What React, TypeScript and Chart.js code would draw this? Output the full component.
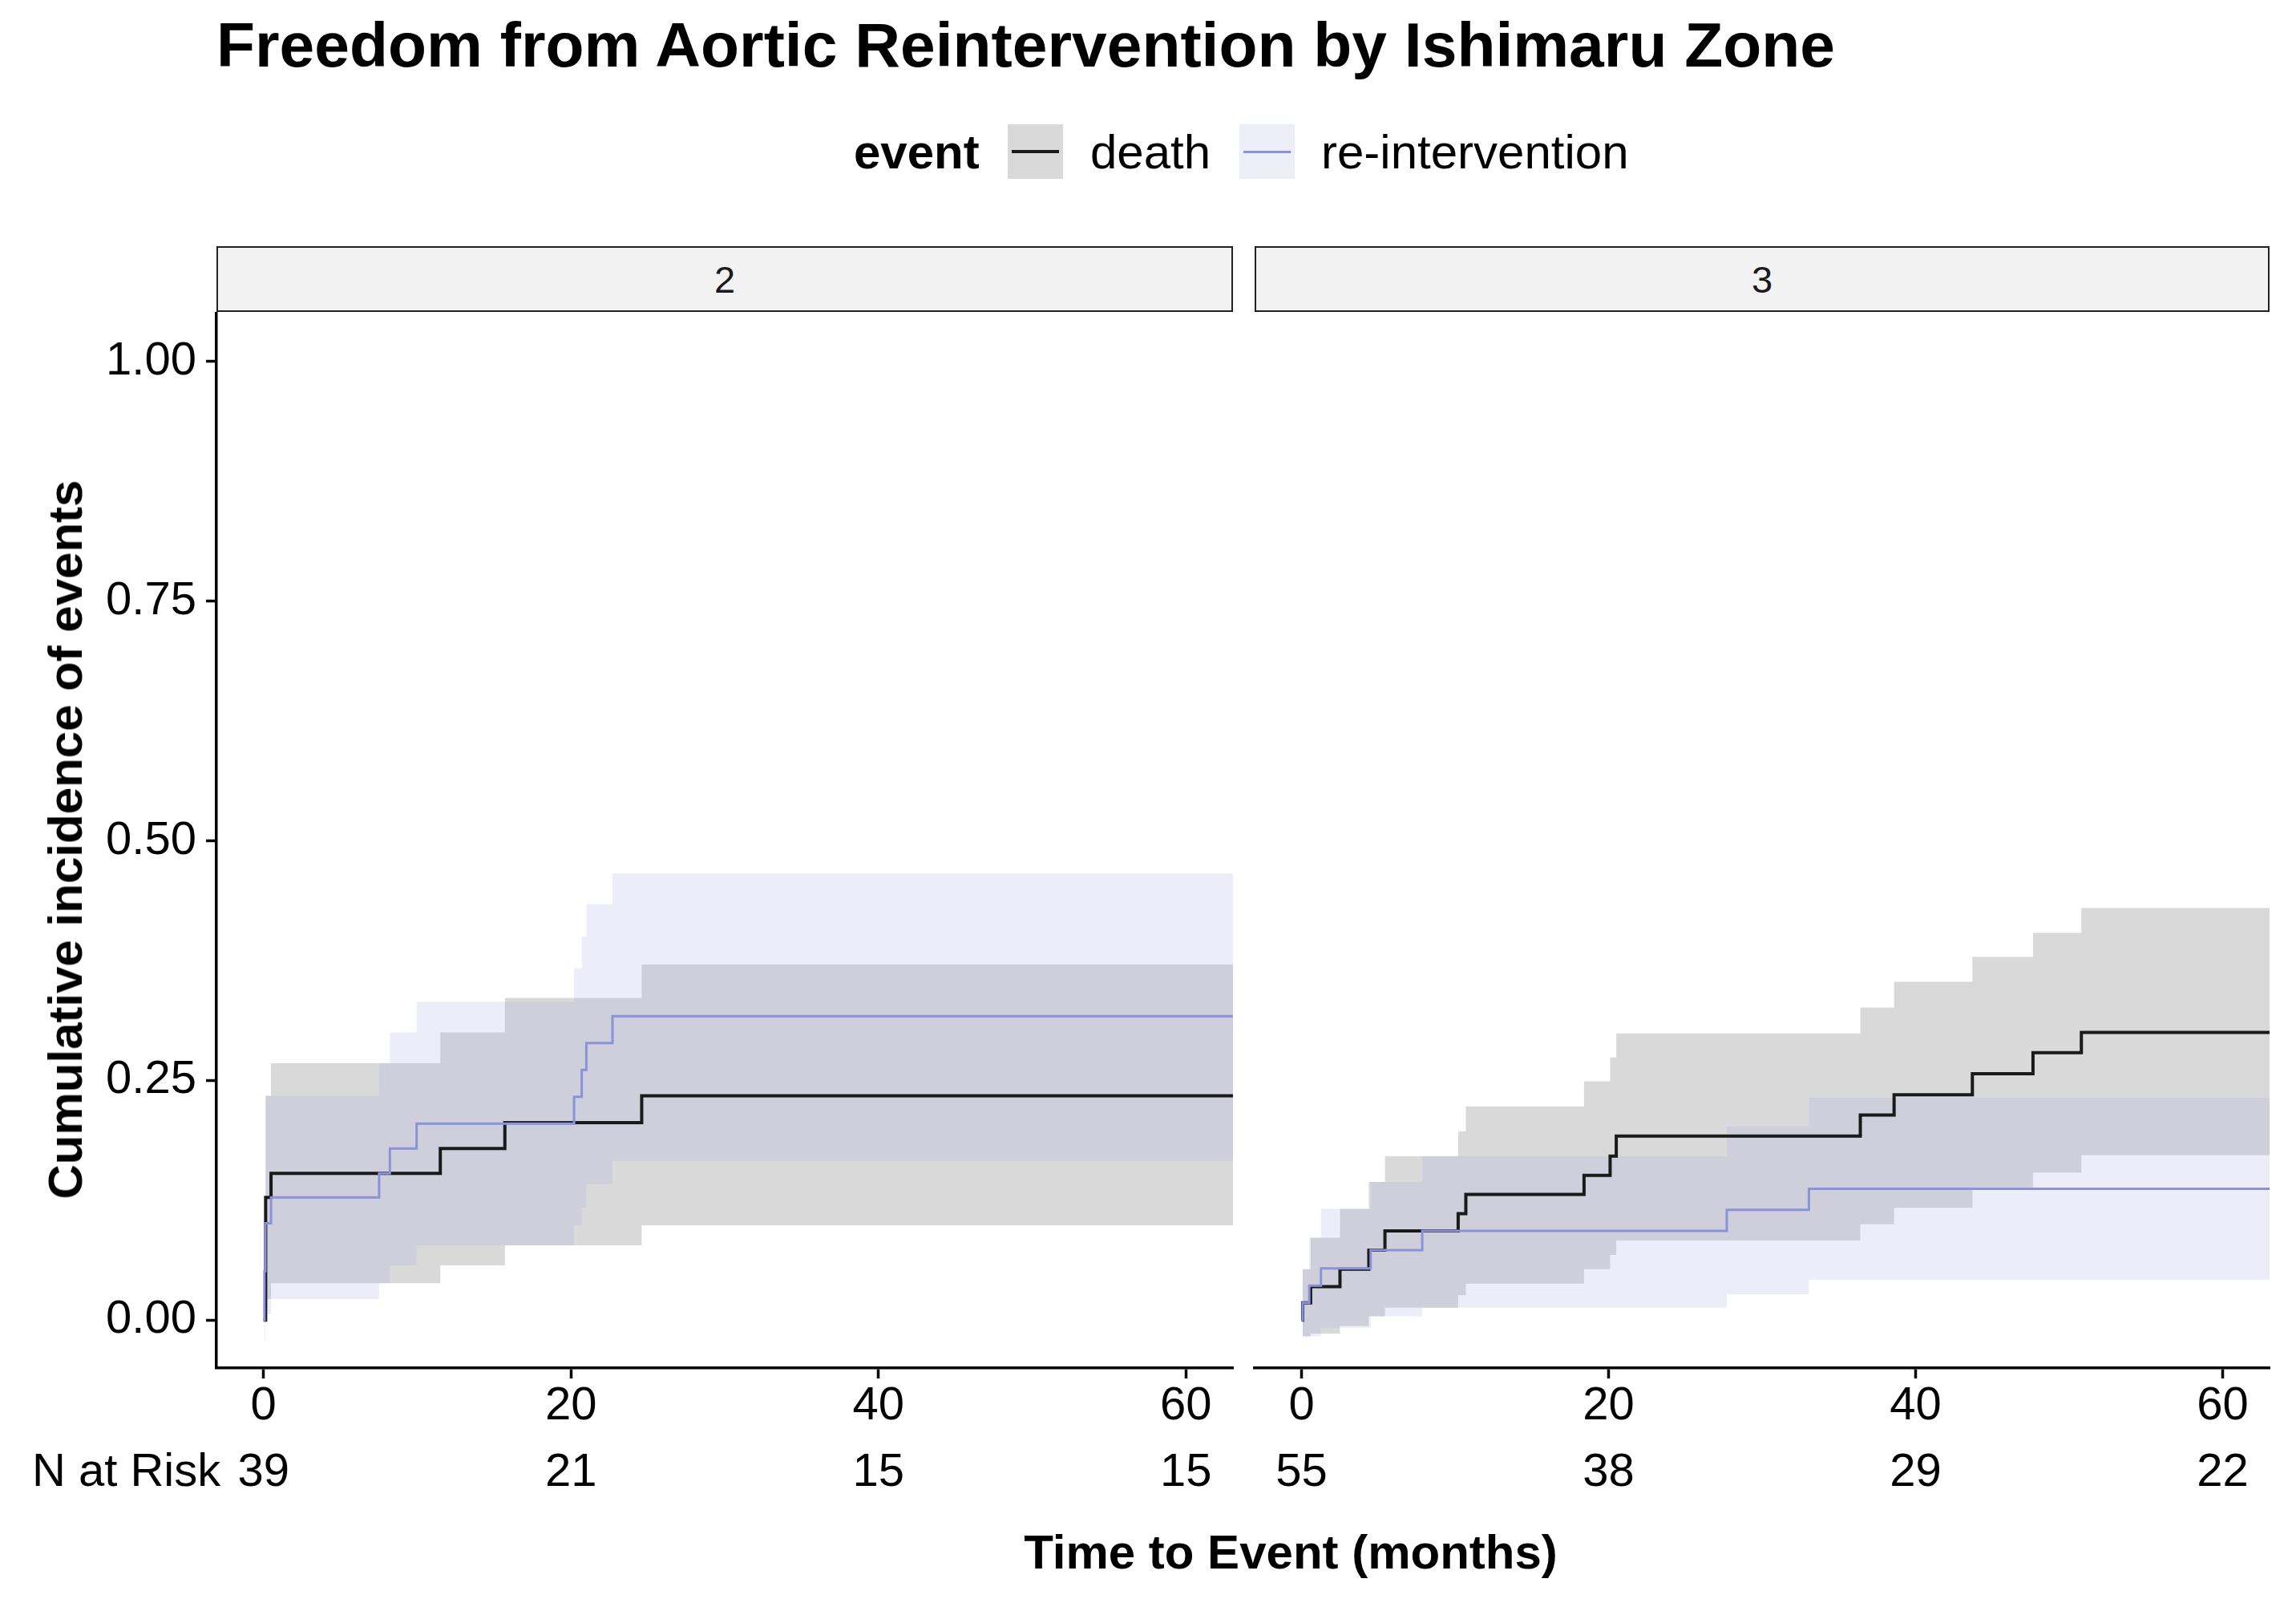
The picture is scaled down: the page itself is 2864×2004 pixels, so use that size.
import React, { useEffect, useRef } from "react";
import { Chart, registerables } from "chart.js";

Chart.register(...registerables);

const FONT = '"Liberation Sans", Arial, Helvetica, sans-serif';

// ---------- data ----------
const xTicks = [0, 20, 40, 60];
const yTicks = [0, 0.25, 0.5, 0.75, 1];
const zoneLabels = ["2", "3"];
const nAtRiskZone2 = [39, 21, 15, 15];
const nAtRiskZone3 = [55, 38, 29, 22];

// Zone 2 – death
const z2DeathTime = [0, 0.14, 0.49, 11.5, 15.7, 24.6, 66];
const z2DeathEst = [0, 0.128, 0.153, 0.179, 0.206, 0.234, 0.234];
const z2DeathUpper = [0, 0.234, 0.268, 0.3, 0.336, 0.371, 0.371];
const z2DeathLower = [0, 0.022, 0.0385, 0.057, 0.078, 0.099, 0.099];

// Zone 2 – re-intervention
const z2ReintTime = [0, 0.06, 0.12, 0.49, 7.52, 8.22, 9.96, 20.2, 20.7, 21.0, 22.7, 66];
const z2ReintEst = [0, 0.051, 0.101, 0.128, 0.153, 0.179, 0.205, 0.233, 0.261, 0.289, 0.317, 0.317];
const z2ReintUpper = [0, 0.12, 0.234, 0.234, 0.268, 0.3, 0.332, 0.367, 0.4, 0.434, 0.466, 0.466];
const z2ReintLower = [0, -0.022, 0.006, 0.022, 0.0385, 0.057, 0.078, 0.099, 0.118, 0.142, 0.166, 0.166];

// Zone 3 – death
const z3DeathTime = [0, 0.07, 0.59, 2.5, 4.38, 5.43, 10.2, 10.7, 18.4, 20.1, 20.5, 36.4, 38.6, 43.7, 47.65, 50.8, 66];
const z3DeathEst = [0, 0.018, 0.035, 0.053, 0.073, 0.093, 0.111, 0.131, 0.151, 0.171, 0.192, 0.214, 0.235, 0.257, 0.279, 0.3, 0.3];
const z3DeathUpper = [0, 0.053, 0.086, 0.116, 0.144, 0.171, 0.197, 0.223, 0.249, 0.274, 0.299, 0.326, 0.353, 0.379, 0.404, 0.43, 0.43];
const z3DeathLower = [0, -0.017, -0.014, -0.006, 0.004, 0.013, 0.026, 0.038, 0.053, 0.068, 0.083, 0.1, 0.117, 0.136, 0.154, 0.172, 0.172];

// Zone 3 – re-intervention
const z3ReintTime = [0, 0.07, 0.5, 1.26, 4.5, 7.86, 27.7, 33.05, 66];
const z3ReintEst = [0, 0.018, 0.036, 0.054, 0.073, 0.093, 0.115, 0.137, 0.137];
const z3ReintUpper = [0, 0.053, 0.086, 0.116, 0.144, 0.171, 0.202, 0.232, 0.232];
const z3ReintLower = [0, -0.017, -0.017, -0.008, 0.004, 0.013, 0.027, 0.042, 0.042];

// ---------- style ----------
const BLUE = "#8a93da";
const DEATH_LINE = "#1a1a1a";
const DEATH_FILL = "rgba(0,0,0,0.149)";
const REINT_FILL = "rgba(160,165,222,0.2)";
const PAD_TOP = 50;
const CANVAS_TOP = 391 - PAD_TOP;
const X_AXIS_H = 195;
const CANVAS_H = 1706 + X_AXIS_H - CANVAS_TOP;
const RISK_Y = 1837 - CANVAS_TOP;

const steps = (t: number[], v: number[]) => t.map((x, i) => ({ x, y: v[i] }));

type PanelProps = {
  left: number;
  width: number;
  padLeft: number;
  padRight: number;
  showY: boolean;
  nRisk: number[];
  deathT: number[];
  deathE: number[];
  deathU: number[];
  deathL: number[];
  reintT: number[];
  reintE: number[];
  reintU: number[];
  reintL: number[];
};

function Panel(p: PanelProps) {
  const ref = useRef<HTMLCanvasElement>(null);
  useEffect(() => {
    const band = (label: string, data: any, fill: any, bg: string) => ({
      label,
      data,
      borderColor: "rgba(0,0,0,0)",
      borderWidth: 0,
      backgroundColor: bg,
      stepped: "before" as const,
      pointRadius: 0,
      fill,
    });
    const riskPlugin = {
      id: "riskTable",
      afterDraw(chart: any) {
        const xs = chart.scales.x;
        const ctx = chart.ctx;
        ctx.save();
        ctx.font = `58px ${FONT}`;
        ctx.fillStyle = "#000";
        ctx.textBaseline = "middle";
        ctx.textAlign = "center";
        xTicks.forEach((t, i) => {
          ctx.fillText(String(p.nRisk[i]), xs.getPixelForValue(t), RISK_Y);
        });
        if (p.showY) {
          ctx.textAlign = "left";
          ctx.fillText("N at Risk", 40, RISK_Y);
        }
        ctx.restore();
      },
    };
    const chart = new Chart(ref.current!, {
      type: "line",
      data: {
        datasets: [
          {
            label: "re-intervention",
            data: steps(p.reintT, p.reintE),
            borderColor: BLUE,
            borderWidth: 3,
            stepped: "before",
            pointRadius: 0,
            fill: false,
          },
          {
            label: "death",
            data: steps(p.deathT, p.deathE),
            borderColor: DEATH_LINE,
            borderWidth: 4,
            stepped: "before",
            pointRadius: 0,
            fill: false,
          },
          band("reint upper", steps(p.reintT, p.reintU), "+1", REINT_FILL),
          band("reint lower", steps(p.reintT, p.reintL), false, "rgba(0,0,0,0)"),
          band("death upper", steps(p.deathT, p.deathU), "+1", DEATH_FILL),
          band("death lower", steps(p.deathT, p.deathL), false, "rgba(0,0,0,0)"),
        ],
      },
      options: {
        animation: false,
        responsive: false,
        devicePixelRatio: 1,
        font: { family: FONT },
        layout: { padding: { left: p.padLeft, right: p.padRight, top: PAD_TOP, bottom: 0 } },
        plugins: {
          legend: { display: false },
          tooltip: { enabled: false },
          filler: { drawTime: "beforeDatasetsDraw" },
        },
        scales: {
          x: {
            type: "linear",
            min: -3.06,
            max: 63.06,
            afterBuildTicks: (s: any) => {
              s.ticks = xTicks.map((v) => ({ value: v }));
            },
            afterFit: (s: any) => {
              s.height = X_AXIS_H;
            },
            ticks: {
              font: { family: FONT, size: 58 },
              color: "#000",
              padding: 0,
              maxRotation: 0,
              autoSkip: false,
              callback: (v: any) => String(v),
            },
            grid: {
              display: true,
              drawOnChartArea: false,
              drawTicks: true,
              tickLength: 13,
              tickColor: "#000",
              tickWidth: 3.5,
            },
            border: { display: true, color: "#000", width: 3.5 },
          },
          y: {
            type: "linear",
            display: p.showY,
            min: -0.05,
            max: 1.05,
            afterBuildTicks: (s: any) => {
              s.ticks = yTicks.map((v) => ({ value: v }));
            },
            afterFit: (s: any) => {
              s.width = p.showY ? 270 : 0;
            },
            ticks: {
              font: { family: FONT, size: 58 },
              color: "#000",
              padding: 12,
              callback: (v: any) => Number(v).toFixed(2),
            },
            grid: {
              display: true,
              drawOnChartArea: false,
              drawTicks: true,
              tickLength: 13,
              tickColor: "#000",
              tickWidth: 3.5,
            },
            border: { display: true, color: "#000", width: 3.5 },
          },
        },
      },
      plugins: [riskPlugin],
    } as any);
    return () => chart.destroy();
  }, []);
  return (
    <canvas
      ref={ref}
      width={p.width}
      height={CANVAS_H}
      style={{ position: "absolute", left: p.left, top: CANVAS_TOP, width: p.width, height: CANVAS_H }}
    />
  );
}

const textBase: React.CSSProperties = {
  position: "absolute",
  fontFamily: FONT,
  lineHeight: 1,
  whiteSpace: "nowrap",
  color: "#000",
  margin: 0,
};

function Strip({ left, width, label }: { left: number; width: number; label: string }) {
  return (
    <div
      style={{
        position: "absolute",
        left,
        top: 307,
        width,
        height: 82,
        boxSizing: "border-box",
        background: "#f2f2f2",
        border: "2.5px solid #222",
        display: "flex",
        alignItems: "center",
        justifyContent: "center",
        fontFamily: FONT,
        fontSize: 47,
        color: "#1a1a1a",
      }}
    >
      {label}
    </div>
  );
}

function LegendKey({ left, fill, line, lw }: { left: number; fill: string; line: string; lw: number }) {
  return (
    <div style={{ position: "absolute", left, top: 155, width: 69, height: 68, background: fill }}>
      <div
        style={{
          position: "absolute",
          left: 5,
          width: 59,
          top: 34 - lw / 2,
          height: lw,
          background: line,
        }}
      />
    </div>
  );
}

export default function App() {
  return (
    <div
      style={{
        position: "absolute",
        left: 0,
        top: 0,
        width: 2864,
        height: 2004,
        background: "#fff",
        overflow: "hidden",
      }}
    >
      <div style={{ ...textBase, left: 270, top: 17, fontSize: 78.6, fontWeight: 700 }}>
        Freedom from Aortic Reintervention by Ishimaru Zone
      </div>

      <div style={{ ...textBase, left: 1065, top: 160, fontSize: 60, fontWeight: 700 }}>event</div>
      <LegendKey left={1257} fill="#d9d9d9" line={DEATH_LINE} lw={4} />
      <div style={{ ...textBase, left: 1360, top: 160, fontSize: 60 }}>death</div>
      <LegendKey left={1546} fill="#eceef8" line={BLUE} lw={3} />
      <div style={{ ...textBase, left: 1648, top: 160, fontSize: 60 }}>re-intervention</div>

      <Strip left={270} width={1268} label={zoneLabels[0]} />
      <Strip left={1565} width={1266} label={zoneLabels[1]} />

      <Panel
        left={0}
        width={1560}
        padLeft={0}
        padRight={22}
        showY={true}
        nRisk={nAtRiskZone2}
        deathT={z2DeathTime}
        deathE={z2DeathEst}
        deathU={z2DeathUpper}
        deathL={z2DeathLower}
        reintT={z2ReintTime}
        reintE={z2ReintEst}
        reintU={z2ReintUpper}
        reintL={z2ReintLower}
      />
      <Panel
        left={1540}
        width={1324}
        padLeft={25}
        padRight={33}
        showY={false}
        nRisk={nAtRiskZone3}
        deathT={z3DeathTime}
        deathE={z3DeathEst}
        deathU={z3DeathUpper}
        deathL={z3DeathLower}
        reintT={z3ReintTime}
        reintE={z3ReintEst}
        reintU={z3ReintUpper}
        reintL={z3ReintLower}
      />

      <div
        style={{
          ...textBase,
          left: 82,
          top: 1047,
          fontSize: 60,
          fontWeight: 700,
          transform: "translate(-50%, -50%) rotate(-90deg)",
        }}
      >
        Cumulative incidence of events
      </div>
      <div
        style={{
          ...textBase,
          left: 1610,
          top: 1936,
          fontSize: 60,
          fontWeight: 700,
          transform: "translate(-50%, -50%)",
        }}
      >
        Time to Event (months)
      </div>
    </div>
  );
}
